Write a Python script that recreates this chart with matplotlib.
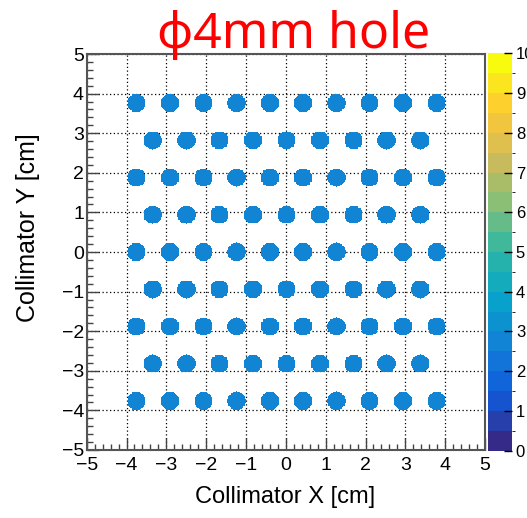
import numpy as np
import matplotlib
matplotlib.use("Agg")
from matplotlib import pyplot as plt
from matplotlib.colors import LinearSegmentedColormap, BoundaryNorm

#%% data: collimator hole centres [cm]
row_y = [3.76, 2.82, 1.88, 0.94, 0.0, -0.94, -1.88, -2.82, -3.76]
wide_x = [-3.76, -2.92, -2.08, -1.25, -0.42, 0.42, 1.25, 2.08, 2.92, 3.76]
narrow_x = [-3.35, -2.51, -1.68, -0.84, 0.0, 0.84, 1.68, 2.51, 3.35]
hole_radius = 0.23
hole_level = 2.7   # counts per bin inside a hole

z_ticks = list(range(11))
xy_ticks = list(range(-5, 6))

#%% ROOT kBird palette, 20 contour levels
red = [0.2082, 0.0592, 0.0780, 0.0232, 0.1802, 0.5301, 0.8186, 0.9956, 0.9764]
green = [0.1664, 0.3599, 0.5041, 0.6419, 0.7178, 0.7492, 0.7328, 0.7862, 0.9832]
blue = [0.5293, 0.8684, 0.8385, 0.7914, 0.6425, 0.4662, 0.3499, 0.1968, 0.0539]
stops = np.linspace(0, 1, len(red))
bird = LinearSegmentedColormap.from_list("bird", list(zip(stops, zip(red, green, blue))))
levels = np.arange(0, 10.5, 0.5)
norm = BoundaryNorm(levels, bird.N)

#%% build 2D histogram
nb = 500
centres = np.linspace(-5, 5, nb, endpoint=False) + 5.0 / nb
X, Y = np.meshgrid(centres, centres)
Z = np.full(X.shape, np.nan)
for j, y in enumerate(row_y):
    xrow = wide_x if j % 2 == 0 else narrow_x
    for x in xrow:
        Z[np.hypot(X - x, Y - y) < hole_radius] = hole_level
Z = np.ma.masked_invalid(Z)

#%% plot
W, H = 527, 518
fig = plt.figure(figsize=(W / 100, H / 100), dpi=100)
ax = fig.add_axes([86.7 / W, (H - 450) / H, (485 - 86.7) / W, (450 - 54) / H])

im = ax.imshow(Z, extent=[-5, 5, -5, 5], origin="lower", cmap=bird, norm=norm,
               interpolation="nearest", aspect="auto", zorder=1)
ax.set_xlim(-5, 5)
ax.set_ylim(-5, 5)
ax.set_xticks(xy_ticks)
ax.set_yticks(xy_ticks)
ax.set_xticks(np.arange(-5, 5.01, 0.2), minor=True)
ax.set_yticks(np.arange(-5, 5.01, 0.2), minor=True)
ax.grid(True, which="major", color="black", linestyle=(0, (1, 2)), linewidth=0.9, zorder=0)
ax.set_axisbelow(True)
ax.tick_params(which="both", direction="in", top=False, right=False, color="#444444", width=1)
ax.tick_params(which="major", length=8.5, labelsize=14)
ax.tick_params(axis="x", which="major", pad=5)
ax.tick_params(axis="y", which="major", pad=2)
ax.tick_params(which="minor", length=4.5)
for lab in ax.get_xticklabels() + ax.get_yticklabels():
    lab.set_fontfamily("Liberation Sans")
for s in ax.spines.values():
    s.set_color("#555555")
    s.set_linewidth(1.5)

# colour scale
cax = fig.add_axes([487.7 / W, (H - 450.7) / H, 24 / W, (450.7 - 53.3) / H])
cb = fig.colorbar(im, cax=cax, ticks=z_ticks)
cb.outline.set_visible(False)
cax.tick_params(direction="in", length=6, width=1, pad=3, labelsize=12, color="black")
for lab in cax.get_yticklabels():
    lab.set_fontfamily("Liberation Sans")

fig.text(285 / W, 1 - 497 / H, "Collimator X [cm]", ha="center", va="center",
         fontsize=17, family="Liberation Sans")
fig.text(28 / W, 1 - 228 / H, "Collimator Y [cm]", ha="center", va="center",
         rotation=90, fontsize=18, family="Liberation Sans")
fig.text(294 / W, 1 - 48 / H, "\u03d54mm hole", ha="center", va="baseline",
         fontsize=36, color="red", family=["Noto Sans", "DejaVu Sans"])

fig.savefig("out.png", dpi=100)
